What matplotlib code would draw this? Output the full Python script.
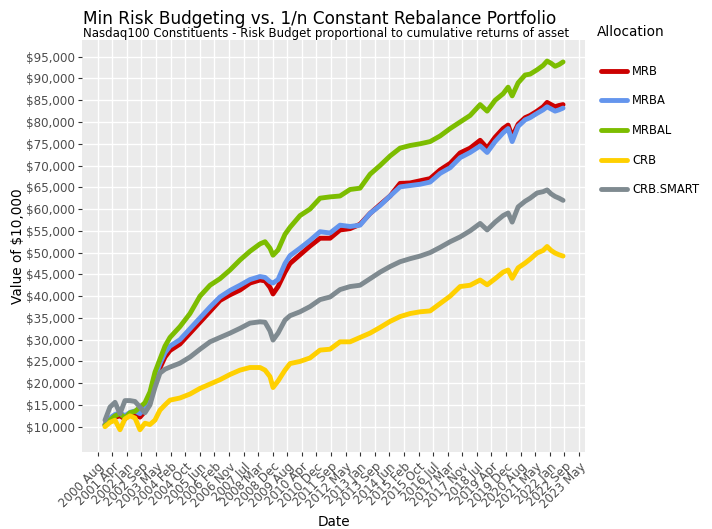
import numpy as np
import pandas as pd
import matplotlib
matplotlib.use("Agg")
import matplotlib.pyplot as plt
from matplotlib.ticker import FuncFormatter

plt.rcParams['font.family'] = ['DejaVu Sans']

dates = ["2000-12-19", "2001-03-15", "2001-06-10", "2001-09-04", "2001-11-29", "2002-02-24",
         "2002-05-21", "2002-08-15", "2002-11-09", "2003-02-04", "2003-05-01", "2003-07-26",
         "2003-10-21", "2004-01-15", "2004-07-06", "2004-12-26", "2005-06-17", "2005-12-07",
         "2006-05-28", "2006-11-17", "2007-05-09", "2007-10-28", "2008-04-18", "2008-07-14",
         "2008-10-08", "2008-11-29", "2009-02-24", "2009-06-24", "2009-09-18", "2010-03-10",
         "2010-08-30", "2011-02-19", "2011-08-11", "2012-01-30", "2012-07-21", "2013-01-10",
         "2013-07-02", "2013-12-21", "2014-06-13", "2014-12-02", "2015-05-24", "2015-11-13",
         "2016-05-04", "2016-10-24", "2017-04-15", "2017-10-04", "2018-03-26", "2018-09-15",
         "2019-01-14", "2019-06-01", "2019-10-17", "2020-01-11", "2020-03-21", "2020-07-02",
         "2020-10-31", "2021-01-25", "2021-05-26", "2021-09-07", "2021-11-14", "2022-01-22",
         "2022-04-01", "2022-06-09", "2022-08-17"]

mrbal = [10.3, 11.5, 12.5, 13.0, 12.0, 13.2, 13.5, 14.5, 15.5, 18.0, 22.5, 25.5, 28.5, 30.5,
         33.0, 36.0, 40.0, 42.5, 44.0, 46.0, 48.3, 50.3, 52.0, 52.5, 51.0, 49.4, 50.6, 54.2,
         55.8, 58.5, 60.0, 62.5, 62.8, 63.0, 64.5, 64.8, 68.0, 70.0, 72.2, 74.0, 74.6, 75.0,
         75.5, 76.8, 78.5, 80.0, 81.5, 84.0, 82.5, 85.0, 86.5, 88.0, 86.0, 89.0, 90.8, 91.0,
         92.0, 93.0, 94.0, 93.5, 92.8, 93.2, 93.8]

mrb = [10.5, 11.8, 12.2, 12.5, 11.8, 12.8, 13.0, 12.2, 13.5, 15.5, 20.5, 23.5, 26.0, 27.5,
       29.0, 31.5, 34.0, 36.5, 39.0, 40.3, 41.4, 43.0, 43.7, 43.5, 42.0, 40.5, 42.2, 45.5,
       47.5, 49.5, 51.5, 53.3, 53.3, 55.2, 55.5, 56.5, 59.0, 61.0, 63.0, 65.9, 66.0, 66.5,
       67.0, 69.0, 70.5, 72.9, 74.0, 75.8, 74.0, 76.5, 78.5, 79.3, 76.6, 79.5, 81.0, 81.5,
       82.5, 83.5, 84.5, 84.0, 83.5, 83.8, 84.0]

mrba = [10.5, 12.0, 12.8, 13.2, 12.5, 13.3, 13.6, 13.0, 14.5, 16.5, 21.5, 24.5, 27.0, 28.5,
        30.0, 32.5, 35.0, 37.5, 39.8, 41.3, 42.5, 43.8, 44.5, 44.3, 43.3, 43.0, 43.8, 47.5,
        49.3, 51.0, 52.8, 54.8, 54.5, 56.3, 56.0, 56.3, 59.0, 60.8, 63.0, 65.1, 65.4, 65.7,
        66.2, 68.2, 69.5, 71.8, 73.0, 74.5, 73.0, 75.5, 77.5, 78.5, 75.5, 79.0, 80.5, 81.0,
        82.0, 82.8, 83.5, 83.0, 82.5, 82.8, 83.2]

crb = [10.0, 11.0, 11.5, 9.3, 11.8, 12.5, 12.0, 9.3, 10.8, 10.5, 11.5, 13.8, 15.0, 16.1,
       16.6, 17.5, 18.8, 19.8, 20.8, 22.0, 23.0, 23.6, 23.6, 23.0, 21.5, 19.0, 20.5, 23.0,
       24.5, 25.0, 25.8, 27.6, 27.8, 29.5, 29.5, 30.5, 31.5, 32.8, 34.2, 35.3, 36.0, 36.4,
       36.6, 38.3, 40.0, 42.2, 42.5, 43.7, 42.6, 44.0, 45.5, 46.0, 44.1, 46.5, 47.6, 48.5,
       49.9, 50.5, 51.4, 50.5, 49.9, 49.5, 49.2]

crb_smart = [11.5, 14.5, 15.6, 13.0, 16.0, 16.0, 15.8, 14.5, 13.2, 15.0, 19.0, 22.3, 23.2,
             23.7, 24.6, 26.0, 27.8, 29.5, 30.5, 31.5, 32.6, 33.8, 34.1, 34.0, 32.0, 29.9,
             31.5, 34.5, 35.5, 36.4, 37.6, 39.2, 39.8, 41.5, 42.2, 42.5, 44.0, 45.5, 46.8,
             47.9, 48.6, 49.2, 50.0, 51.2, 52.5, 53.6, 55.0, 56.7, 55.2, 57.0, 58.5, 59.1,
             57.0, 60.5, 61.8, 62.5, 63.7, 64.0, 64.4, 63.5, 62.9, 62.5, 62.0]

series_names = ["MRB", "MRBA", "MRBAL", "CRB", "CRB.SMART"]
series_colors = ["#CC0000", "#6495ED", "#7CBD00", "#FFD000", "#7F8A90"]

x_tick_labels = ["2000 Aug", "2001 Apr", "2002 Jan", "2002 Sep", "2003 May", "2004 Feb",
                 "2004 Oct", "2005 Jun", "2006 Feb", "2006 Nov", "2007 Jul", "2008 Mar",
                 "2008 Dec", "2009 Aug", "2010 Apr", "2010 Dec", "2011 Sep", "2012 May",
                 "2013 Jan", "2013 Sep", "2014 Jun", "2015 Feb", "2015 Oct", "2016 Jul",
                 "2017 Mar", "2017 Nov", "2018 Jul", "2019 Apr", "2019 Dec", "2020 Aug",
                 "2021 May", "2022 Jan", "2022 Sep", "2023 May"]
x_tick_first = "2000-08-15"
x_tick_last = "2023-05-18"
y_ticks = list(range(10000, 95001, 5000))

x = pd.to_datetime(dates)
values = [mrb, mrba, mrbal, crb, crb_smart]

fig = plt.figure(figsize=(7.12, 5.29), dpi=100)
ax = fig.add_axes([82/712, 1-452/529, (585-82)/712, (452-40)/529])
ax.set_facecolor("#EBEBEB")
for s in ax.spines.values():
    s.set_visible(False)

tick_pos = pd.to_datetime(np.linspace(pd.Timestamp(x_tick_first).value,
                                      pd.Timestamp(x_tick_last).value,
                                      len(x_tick_labels)))
ax.set_xticks(tick_pos)
ax.set_xticklabels(x_tick_labels, rotation=45, ha="right", rotation_mode="anchor")
ax.set_yticks(y_ticks)
ax.yaxis.set_major_formatter(FuncFormatter(lambda v, p: "${:,.0f}".format(v)))
ax.grid(True, color="white", linewidth=1.0)
ax.set_axisbelow(True)
ax.tick_params(axis="both", colors="#333333", labelcolor="#4D4D4D", length=3, width=0.8,
               labelsize=8.6, pad=2)
ax.tick_params(axis="x", pad=3)

handles = []
for name, col, vals in zip(series_names, series_colors, values):
    h, = ax.plot(x, np.array(vals) * 1000, color=col, linewidth=3.5, label=name,
                 solid_joinstyle="round", solid_capstyle="round")
    handles.append(h)

ax.set_xlim(pd.Timestamp("1999-11-18"), pd.Timestamp("2023-08-31"))
ax.set_ylim(4190, 98840)

ax.set_xlabel("Date", fontsize=9.8, color="black", labelpad=3)
ax.set_ylabel("Value of $10,000", fontsize=9.8, color="black", labelpad=1)

fig.text(83/712, 1-24/529, "Min Risk Budgeting vs. 1/n Constant Rebalance Portfolio",
         fontsize=12.2, color="black", ha="left", va="baseline")
fig.text(83/712, 1-37/529,
         "Nasdaq100 Constituents - Risk Budget proportional to cumulative returns of asset",
         fontsize=8.45, color="black", ha="left", va="baseline")

fig.text(597/712, 1-32/529, "Allocation", fontsize=9.8, color="black",
         ha="left", va="center")
leg = fig.legend(handles=handles, labels=series_names, loc="upper left",
                 bbox_to_anchor=(596/712, 1-60/529), frameon=False,
                 fontsize=8.3, handlelength=2.3, labelspacing=1.45,
                 handletextpad=0.45, borderaxespad=0)

fig.savefig("out.png", dpi=100)
